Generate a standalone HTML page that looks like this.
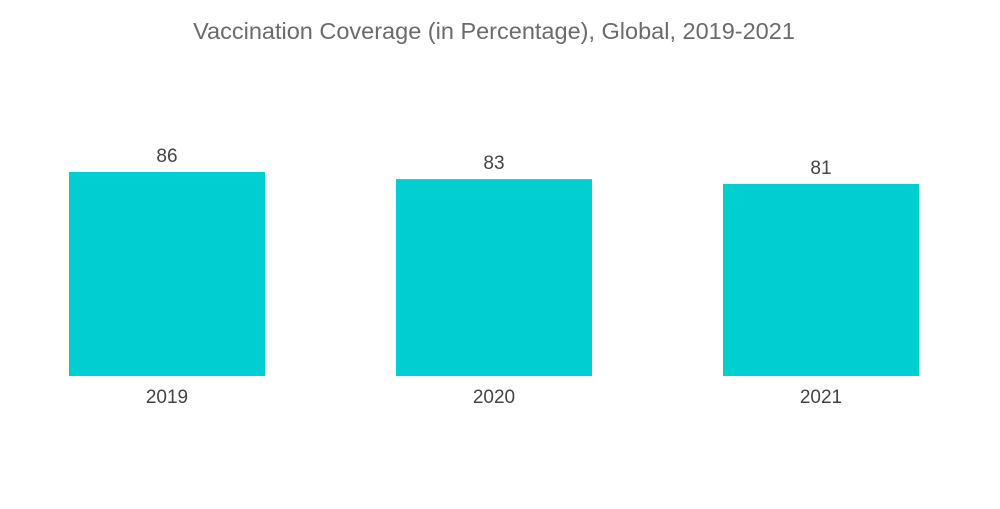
<!DOCTYPE html>
<html><head><meta charset="utf-8"><style>
body{margin:0;width:1000px;height:504px;background:#fff;overflow:hidden;font-family:"Liberation Sans",sans-serif}
</style></head><body>
<svg id="chart" width="1000" height="504" xmlns="http://www.w3.org/2000/svg">
<text x="494" y="39" text-anchor="middle" font-size="23.5" fill="#6b6b6b" font-family="Liberation Sans, sans-serif">Vaccination Coverage (in Percentage), Global, 2019-2021</text>
<g id="bars"></g>
</svg>
<script>
const categories=["2019","2020","2021"];
const values=[86,83,81];
const svg=document.getElementById('bars');
const ns="http://www.w3.org/2000/svg";
const baseY=376, scale=204/86, x0=69, step=327, bw=196;
function yPos(v){return baseY-v*scale;}
function xPos(i){return x0+i*step;}
categories.forEach((c,i)=>{
  const r=document.createElementNS(ns,'rect');
  
  
  r.setAttribute('x',xPos(i));r.setAttribute('y',yPos(values[i]));
  r.setAttribute('width',bw);r.setAttribute('height',baseY-yPos(values[i]));
  r.setAttribute('fill','#00ced1');svg.appendChild(r);
  const t=document.createElementNS(ns,'text');
  
  
  t.setAttribute('x',xPos(i)+bw/2);t.setAttribute('y',yPos(values[i])-10);
  t.setAttribute('text-anchor','middle');t.setAttribute('font-size','19');t.setAttribute('fill','#444');
  t.textContent=values[i];svg.appendChild(t);
  const l=document.createElementNS(ns,'text');
  
  
  l.setAttribute('x',xPos(i)+bw/2);l.setAttribute('y',403);
  l.setAttribute('text-anchor','middle');l.setAttribute('font-size','19');l.setAttribute('fill','#444');
  l.textContent=c;svg.appendChild(l);
});
</script>
</body></html>
